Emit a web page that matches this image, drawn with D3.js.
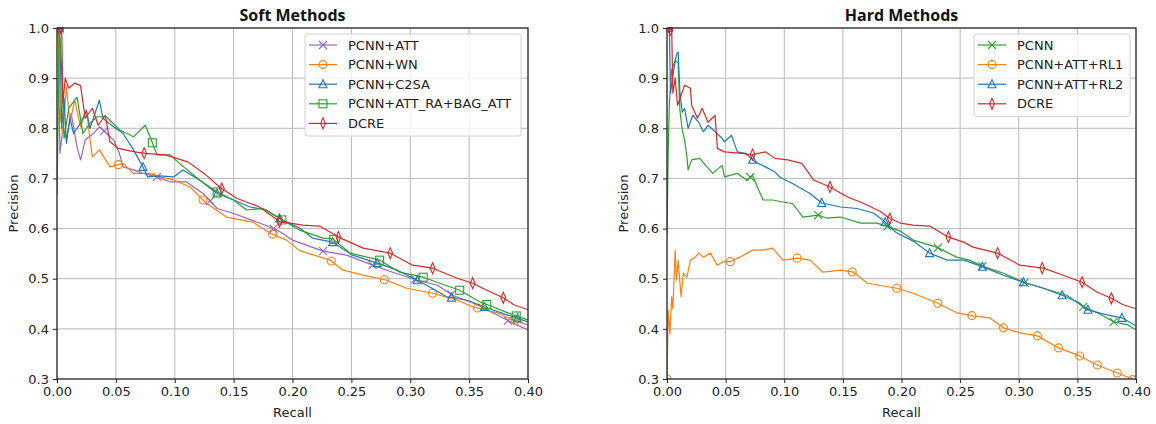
<!DOCTYPE html>
<html>
<head>
<meta charset="utf-8">
<script src="https://cdn.jsdelivr.net/npm/d3@7/dist/d3.min.js"></script>
<style>
    body { margin: 0; background: #fff; }
    text { font-family: "DejaVu Sans", sans-serif; }
</style>
</head>
<body>
<div id="chart"></div>
<script>
// tick values shared by both panels
const recallTicks = [0.00, 0.05, 0.10, 0.15, 0.20, 0.25, 0.30, 0.35, 0.40];
const precisionTicks = [0.3, 0.4, 0.5, 0.6, 0.7, 0.8, 0.9, 1.0];

// Soft methods, [recall, precision]
const softPcnnAtt = [[0.001, 1.0], [0.0025, 0.75], [0.005, 0.80], [0.008, 0.78], [0.012, 0.83], [0.017, 0.763], [0.02, 0.737],
    [0.024, 0.777], [0.031, 0.79], [0.036, 0.803], [0.042, 0.79], [0.048, 0.777], [0.053, 0.75], [0.056, 0.723], [0.065, 0.717],
    [0.073, 0.71], [0.085, 0.703], [0.096, 0.693], [0.11, 0.693], [0.124, 0.67], [0.136, 0.64], [0.15, 0.63], [0.172, 0.611],
    [0.187, 0.597], [0.2, 0.577], [0.226, 0.555], [0.246, 0.547], [0.268, 0.527], [0.285, 0.513], [0.306, 0.497], [0.323, 0.487],
    [0.336, 0.467], [0.353, 0.452], [0.37, 0.432], [0.385, 0.414], [0.40, 0.398]];
const softPcnnWn = [[0.001, 1.0], [0.003, 0.82], [0.005, 0.79], [0.008, 0.883], [0.011, 0.81], [0.015, 0.856], [0.02, 0.803],
    [0.025, 0.836], [0.03, 0.743], [0.036, 0.757], [0.045, 0.723], [0.056, 0.73], [0.065, 0.71], [0.079, 0.71], [0.087, 0.703],
    [0.099, 0.697], [0.113, 0.683], [0.127, 0.65], [0.144, 0.623], [0.166, 0.613], [0.181, 0.591], [0.195, 0.577], [0.206, 0.556],
    [0.232, 0.537], [0.243, 0.517], [0.26, 0.507], [0.28, 0.497], [0.297, 0.481], [0.319, 0.471], [0.34, 0.457], [0.353, 0.444],
    [0.374, 0.432], [0.387, 0.418], [0.40, 0.408]];
const softPcnnC2sa = [[0.001, 1.0], [0.0025, 0.98], [0.004, 0.80], [0.006, 0.86], [0.008, 0.77], [0.011, 0.82], [0.014, 0.79],
    [0.02, 0.81], [0.025, 0.836], [0.028, 0.80], [0.036, 0.856], [0.039, 0.82], [0.048, 0.803], [0.056, 0.79], [0.065, 0.757],
    [0.073, 0.723], [0.077, 0.703], [0.087, 0.705], [0.099, 0.703], [0.107, 0.717], [0.121, 0.697], [0.136, 0.67], [0.15, 0.657],
    [0.164, 0.643], [0.178, 0.637], [0.189, 0.62], [0.206, 0.601], [0.217, 0.581], [0.234, 0.573], [0.251, 0.547], [0.272, 0.531],
    [0.289, 0.517], [0.306, 0.497], [0.317, 0.483], [0.331, 0.464], [0.348, 0.457], [0.365, 0.442], [0.382, 0.428], [0.40, 0.414]];
const softPcnnRa = [[0.0, 0.667], [0.002, 1.0], [0.004, 0.916], [0.006, 0.78], [0.01, 0.84], [0.017, 0.862], [0.022, 0.79],
    [0.028, 0.81], [0.034, 0.823], [0.042, 0.823], [0.053, 0.797], [0.065, 0.783], [0.075, 0.806], [0.08, 0.777], [0.085, 0.747],
    [0.096, 0.747], [0.104, 0.73], [0.121, 0.697], [0.136, 0.673], [0.15, 0.657], [0.161, 0.637], [0.175, 0.64], [0.189, 0.62],
    [0.206, 0.597], [0.226, 0.581], [0.234, 0.58], [0.249, 0.551], [0.274, 0.537], [0.291, 0.513], [0.311, 0.503], [0.325, 0.491],
    [0.342, 0.477], [0.359, 0.454], [0.37, 0.444], [0.387, 0.428], [0.40, 0.418]];
const softDcre = [[0.003, 1.0], [0.004, 1.0], [0.005, 0.85], [0.007, 0.90], [0.01, 0.88], [0.015, 0.89], [0.02, 0.885],
    [0.024, 0.82], [0.03, 0.84], [0.035, 0.806], [0.041, 0.826], [0.045, 0.773], [0.052, 0.76], [0.066, 0.753], [0.075, 0.75],
    [0.092, 0.747], [0.111, 0.733], [0.125, 0.71], [0.138, 0.683], [0.153, 0.66], [0.172, 0.643], [0.189, 0.614], [0.209, 0.607],
    [0.223, 0.605], [0.239, 0.583], [0.26, 0.561], [0.283, 0.551], [0.302, 0.527], [0.319, 0.521], [0.34, 0.501], [0.353, 0.491],
    [0.365, 0.477], [0.379, 0.462], [0.388, 0.448], [0.40, 0.438]];

// Hard methods
const hardPcnn = [[0.0, 0.59], [0.001, 0.75], [0.002, 0.85], [0.004, 0.916], [0.007, 0.936], [0.0095, 0.93], [0.011, 0.836],
    [0.013, 0.797], [0.015, 0.777], [0.017, 0.743], [0.018, 0.717], [0.021, 0.737], [0.028, 0.74], [0.034, 0.723], [0.039, 0.71],
    [0.047, 0.726], [0.049, 0.703], [0.06, 0.71], [0.068, 0.697], [0.073, 0.706], [0.077, 0.683], [0.082, 0.657], [0.09, 0.657],
    [0.099, 0.653], [0.107, 0.65], [0.116, 0.623], [0.129, 0.627], [0.136, 0.621], [0.148, 0.623], [0.165, 0.611], [0.179, 0.611],
    [0.19, 0.603], [0.199, 0.595], [0.21, 0.577], [0.23, 0.563], [0.247, 0.543], [0.258, 0.537], [0.27, 0.524], [0.287, 0.511],
    [0.304, 0.493], [0.321, 0.481], [0.341, 0.467], [0.355, 0.444], [0.367, 0.432], [0.381, 0.414], [0.393, 0.408], [0.40, 0.398]];
const hardRl1 = [[0.0, 0.30], [0.001, 0.437], [0.0025, 0.39], [0.004, 0.464], [0.005, 0.44], [0.007, 0.557], [0.008, 0.497],
    [0.0095, 0.537], [0.012, 0.464], [0.014, 0.511], [0.017, 0.503], [0.02, 0.537], [0.024, 0.543], [0.027, 0.551], [0.031, 0.543],
    [0.037, 0.551], [0.043, 0.527], [0.048, 0.534], [0.054, 0.534], [0.062, 0.543], [0.073, 0.557], [0.082, 0.557], [0.09, 0.561],
    [0.099, 0.537], [0.111, 0.541], [0.122, 0.537], [0.133, 0.513], [0.148, 0.517], [0.159, 0.513], [0.171, 0.491], [0.188, 0.484],
    [0.196, 0.481], [0.21, 0.471], [0.231, 0.451], [0.247, 0.432], [0.261, 0.426], [0.275, 0.422], [0.287, 0.402], [0.301, 0.392],
    [0.316, 0.386], [0.334, 0.362], [0.352, 0.346], [0.367, 0.328], [0.384, 0.312], [0.395, 0.302], [0.40, 0.294]];
const hardRl2 = [[0.001, 1.0], [0.002, 1.0], [0.003, 0.87], [0.005, 0.906], [0.008, 0.946], [0.0095, 0.952], [0.011, 0.872],
    [0.013, 0.832], [0.015, 0.84], [0.018, 0.80], [0.022, 0.826], [0.027, 0.812], [0.031, 0.793], [0.035, 0.806], [0.041, 0.793],
    [0.047, 0.78], [0.049, 0.773], [0.055, 0.786], [0.06, 0.753], [0.067, 0.75], [0.075, 0.733], [0.084, 0.723], [0.092, 0.713],
    [0.096, 0.703], [0.107, 0.69], [0.122, 0.67], [0.132, 0.651], [0.148, 0.643], [0.162, 0.64], [0.176, 0.631], [0.184, 0.617],
    [0.196, 0.591], [0.21, 0.575], [0.224, 0.551], [0.239, 0.537], [0.253, 0.537], [0.269, 0.524], [0.287, 0.507], [0.304, 0.493],
    [0.321, 0.481], [0.337, 0.467], [0.35, 0.454], [0.359, 0.438], [0.375, 0.428], [0.388, 0.422], [0.40, 0.406]];
const hardDcre = [[0.001, 0.99], [0.004, 1.0], [0.005, 0.87], [0.007, 0.90], [0.009, 0.846], [0.013, 0.872], [0.015, 0.886],
    [0.02, 0.88], [0.021, 0.846], [0.026, 0.82], [0.03, 0.84], [0.035, 0.812], [0.041, 0.826], [0.043, 0.76], [0.049, 0.753],
    [0.064, 0.75], [0.072, 0.747], [0.084, 0.753], [0.092, 0.74], [0.103, 0.737], [0.115, 0.73], [0.125, 0.697], [0.139, 0.683],
    [0.154, 0.663], [0.167, 0.651], [0.182, 0.634], [0.19, 0.62], [0.199, 0.611], [0.21, 0.607], [0.224, 0.605], [0.239, 0.584],
    [0.253, 0.573], [0.261, 0.563], [0.282, 0.551], [0.301, 0.527], [0.321, 0.521], [0.338, 0.507], [0.354, 0.493], [0.367, 0.473],
    [0.379, 0.461], [0.389, 0.448], [0.40, 0.44]];

// recall positions where the markers sit
const softPcnnAttMarks = [0.001, 0.04, 0.085, 0.13, 0.184, 0.226, 0.268, 0.304, 0.335, 0.383];
const softPcnnWnMarks = [0.001, 0.052, 0.124, 0.183, 0.233, 0.278, 0.319, 0.357, 0.389];
const softPcnnC2saMarks = [0.001, 0.073, 0.136, 0.189, 0.234, 0.272, 0.306, 0.335, 0.363, 0.391];
const softPcnnRaMarks = [0.002, 0.081, 0.136, 0.191, 0.235, 0.274, 0.311, 0.342, 0.365, 0.39];
const softDcreMarks = [0.003, 0.074, 0.14, 0.189, 0.239, 0.283, 0.319, 0.353, 0.379];
const hardPcnnMarks = [0.071, 0.129, 0.188, 0.231, 0.269, 0.305, 0.355, 0.381];
const hardRl1Marks = [0.0, 0.054, 0.111, 0.158, 0.196, 0.231, 0.26, 0.287, 0.316, 0.334, 0.352, 0.367, 0.384, 0.397];
const hardRl2Marks = [0.001, 0.073, 0.132, 0.186, 0.224, 0.269, 0.304, 0.337, 0.359, 0.388];
const hardDcreMarks = [0.003, 0.073, 0.139, 0.19, 0.24, 0.282, 0.32, 0.354, 0.379];

const COLORS = {blue: "#1f77b4", orange: "#ff7f0e", green: "#2ca02c", red: "#d62728", purple: "#9467bd"};

// draws a hollow marker of the given kind centred at 0,0
function drawMarker(g, kind, color) {
    const s = 4;
    let el;
    if (kind === "x") {
        el = g.append("path").attr("d", `M${-s},${-s}L${s},${s}M${-s},${s}L${s},${-s}`);
    } else if (kind === "o") {
        el = g.append("circle").attr("r", s);
    } else if (kind === "^") {
        el = g.append("path").attr("d", `M0,${-s - 0.5}L${s},${s - 0.5}L${-s},${s - 0.5}Z`);
    } else if (kind === "s") {
        el = g.append("rect").attr("x", -s).attr("y", -s).attr("width", 2 * s).attr("height", 2 * s);
    } else {
        el = g.append("path").attr("d", `M0,${-s - 1.5}L${s * 0.6},0L0,${s + 1.5}L${-s * 0.6},0Z`);
    }
    el.style("fill", "none").style("stroke", color).style("stroke-width", 1.1);
}

function precisionAt(series, r) {
    const i = d3.bisector(d => d[0]).left(series, r);
    if (i <= 0) return series[0][1];
    if (i >= series.length) return series[series.length - 1][1];
    const a = series[i - 1], b = series[i];
    const t = (r - a[0]) / (b[0] - a[0]);
    return a[1] + t * (b[1] - a[1]);
}

function renderPanel(svg, panel) {
    const x = d3.scaleLinear().domain([0, 0.4]).range([panel.left, panel.right]);
    const y = d3.scaleLinear().domain([0.3, 1.0]).range([panel.bottom, panel.top]);

    // grid
    svg.append("g").selectAll("line").data(recallTicks).enter().append("line")
        .attr("x1", d => x(d)).attr("x2", d => x(d))
        .attr("y1", panel.top).attr("y2", panel.bottom)
        .style("stroke", "#b8b8b8").style("stroke-width", 1);
    svg.append("g").selectAll("line").data(precisionTicks).enter().append("line")
        .attr("y1", d => y(d)).attr("y2", d => y(d))
        .attr("x1", panel.left).attr("x2", panel.right)
        .style("stroke", "#b8b8b8").style("stroke-width", 1);

    const clipId = "clip-" + panel.key;
    svg.append("clipPath").attr("id", clipId).append("rect")
        .attr("x", panel.left).attr("y", panel.top - 1)
        .attr("width", panel.right - panel.left).attr("height", panel.bottom - panel.top + 1);

    const line = d3.line().x(d => x(d[0])).y(d => y(d[1]));
    const plot = svg.append("g").attr("clip-path", "url(#" + clipId + ")");

    panel.series.forEach(function (s) {
        plot.append("path").datum(s.data)
            .attr("d", line)
            .style("fill", "none")
            .style("stroke", s.color)
            .style("stroke-width", 1.2)
            .style("stroke-linejoin", "round");
        s.marks.forEach(function (r) {
            const g = plot.append("g")
                .attr("transform", "translate(" + x(r) + "," + y(precisionAt(s.data, r)) + ")");
            drawMarker(g, s.marker, s.color);
        });
    });

    // axes
    const xAxis = svg.append("g")
        .attr("transform", "translate(0," + panel.bottom + ")")
        .call(d3.axisBottom(x).tickValues(recallTicks).tickFormat(d3.format(".2f")).tickSize(4).tickPadding(4));
    const yAxis = svg.append("g")
        .attr("transform", "translate(" + panel.left + ",0)")
        .call(d3.axisLeft(y).tickValues(precisionTicks).tickFormat(d3.format(".1f")).tickSize(4).tickPadding(4));
    [xAxis, yAxis].forEach(function (a) {
        a.select(".domain").remove();
        a.selectAll("line").style("stroke", "#222");
        a.selectAll("text").style("font-size", "13px").style("fill", "#222")
            .style("font-family", "DejaVu Sans");
    });

    // frame
    svg.append("rect")
        .attr("x", panel.left).attr("y", panel.top)
        .attr("width", panel.right - panel.left).attr("height", panel.bottom - panel.top)
        .style("fill", "none").style("stroke", "#222").style("stroke-width", 1.2);

    // title and labels
    svg.append("text")
        .attr("x", (panel.left + panel.right) / 2).attr("y", 21)
        .attr("text-anchor", "middle")
        .style("font-family", "Open Sans").style("font-weight", "bold").style("font-size", "16px")
        .style("fill", "#111")
        .text(panel.title);
    svg.append("text")
        .attr("x", (panel.left + panel.right) / 2).attr("y", 417)
        .attr("text-anchor", "middle")
        .style("font-size", "13px").style("fill", "#222")
        .text("Recall");
    svg.append("text")
        .attr("transform", "translate(" + (panel.left - 39) + "," + ((panel.top + panel.bottom) / 2) + ") rotate(-90)")
        .attr("text-anchor", "middle")
        .style("font-size", "13px").style("fill", "#222")
        .text("Precision");

    // legend
    const lg = panel.legend;
    const rowH = 19.6;
    svg.append("rect")
        .attr("x", lg.x).attr("y", lg.y)
        .attr("width", lg.w).attr("height", panel.series.length * rowH + 4)
        .attr("rx", 2.5)
        .style("fill", "rgba(255,255,255,0.8)").style("stroke", "#d0d0d0").style("stroke-width", 1);
    panel.series.forEach(function (s, i) {
        const cy = lg.y + 11 + i * rowH;
        svg.append("line")
            .attr("x1", lg.x + 4).attr("x2", lg.x + 32)
            .attr("y1", cy).attr("y2", cy)
            .style("stroke", s.color).style("stroke-width", 1.2);
        const g = svg.append("g").attr("transform", "translate(" + (lg.x + 18) + "," + cy + ")");
        drawMarker(g, s.marker, s.color);
        svg.append("text")
            .attr("x", lg.x + 43).attr("y", cy)
            .attr("dy", "0.36em")
            .style("font-size", "13px").style("fill", "#222")
            .text(s.name);
    });
}

function renderChart() {
    const svg = d3.select("#chart").append("svg")
        .attr("width", 1156)
        .attr("height", 424);

    renderPanel(svg, {
        key: "soft", title: "Soft Methods",
        left: 57, right: 528, top: 28, bottom: 379,
        legend: {x: 305, y: 34, w: 216},
        series: [
            {name: "PCNN+ATT", data: softPcnnAtt, marks: softPcnnAttMarks, color: COLORS.purple, marker: "x"},
            {name: "PCNN+WN", data: softPcnnWn, marks: softPcnnWnMarks, color: COLORS.orange, marker: "o"},
            {name: "PCNN+C2SA", data: softPcnnC2sa, marks: softPcnnC2saMarks, color: COLORS.blue, marker: "^"},
            {name: "PCNN+ATT_RA+BAG_ATT", data: softPcnnRa, marks: softPcnnRaMarks, color: COLORS.green, marker: "s"},
            {name: "DCRE", data: softDcre, marks: softDcreMarks, color: COLORS.red, marker: "d"}
        ]
    });

    renderPanel(svg, {
        key: "hard", title: "Hard Methods",
        left: 667, right: 1136, top: 28, bottom: 379,
        legend: {x: 974, y: 34, w: 156},
        series: [
            {name: "PCNN", data: hardPcnn, marks: hardPcnnMarks, color: COLORS.green, marker: "x"},
            {name: "PCNN+ATT+RL1", data: hardRl1, marks: hardRl1Marks, color: COLORS.orange, marker: "o"},
            {name: "PCNN+ATT+RL2", data: hardRl2, marks: hardRl2Marks, color: COLORS.blue, marker: "^"},
            {name: "DCRE", data: hardDcre, marks: hardDcreMarks, color: COLORS.red, marker: "d"}
        ]
    });
}

renderChart();
</script>
</body>
</html>
